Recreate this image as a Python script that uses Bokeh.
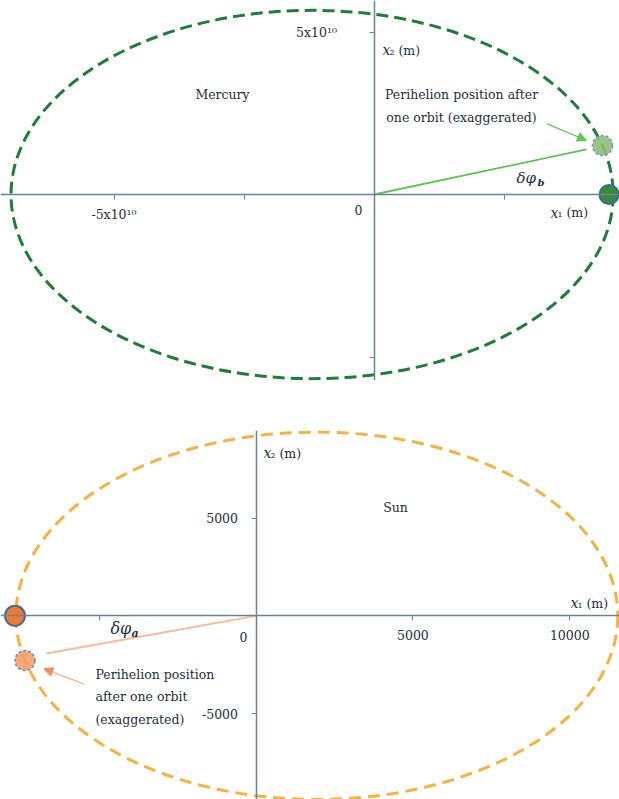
from bokeh.plotting import figure
from bokeh.models import FixedTicker, Arrow, NormalHead, LinearAxis, Range1d
from bokeh.layouts import column
from bokeh.embed import file_html
from bokeh.resources import INLINE
from bokeh.core.properties import value

# ---------------- data (metres) ----------------
# Mercury orbit around the barycentre
merc_perihelion = 4.60e10
merc_aphelion = 6.98e10
merc_pos = [4.52e10, 0.0]             # Mercury at perihelion
merc_shifted = [4.394e10, 1.508e10]   # perihelion after one orbit (exaggerated)
merc_ray_end = [4.087e10, 1.385e10]
merc_arrow_tail = [3.331e10, 2.175e10]
merc_arrow_head = [4.087e10, 1.662e10]
merc_xticks = [-5e10, -2.5e10, 2.5e10]
merc_xtick_labels = ["-5x10\u00b9\u2070", "", ""]
merc_yticks = [5e10, -5e10]
merc_ytick_labels = ["5x10\u00b9\u2070", ""]

# Sun orbit around the barycentre
sun_perihelion = 7650.0
sun_aphelion = 11530.0
sun_pos = [-7680.0, 0.0]
sun_shifted = [-7361.0, -2285.0]
sun_ray_end = [-6676.0, -1927.0]
sun_arrow_tail = [-5488.0, -3476.0]
sun_arrow_head = [-6762.0, -2710.0]
sun_xticks = [-5000, 5000, 10000]
sun_xtick_labels = ["", "5000", "10000"]
sun_yticks = [5000, -5000]
sun_ytick_labels = ["5000", "-5000"]

# ---------------- styles ----------------
FONT = "DejaVu Serif"
TXT = "#1d2f3a"
AX = "#6a8599"
GREEN = "#1f7d3a"
ORANGE = "#f4b23e"
FS = "12.5px"


def base(height, x_range, y_range, top, bottom):
    p = figure(width=619, height=height, x_range=Range1d(*x_range), y_range=Range1d(*y_range),
               output_backend="svg", toolbar_location=None,
               x_axis_location=None, y_axis_location=None,
               min_border_left=0, min_border_right=0,
               min_border_top=top, min_border_bottom=bottom)
    p.grid.visible = False
    p.outline_line_color = None
    p.background_fill_color = "white"
    p.border_fill_color = "white"
    return p


def add_axes(p, xt, xl, yt, yl, xstand, ystand):
    xa = LinearAxis(fixed_location=0, ticker=FixedTicker(ticks=xt),
                    major_label_overrides={t: l for t, l in zip(xt, xl)})
    ya = LinearAxis(fixed_location=0, ticker=FixedTicker(ticks=yt),
                    major_label_overrides={t: l for t, l in zip(yt, yl)})
    for a, s in ((xa, xstand), (ya, ystand)):
        a.axis_line_color = AX
        a.axis_line_width = 1.5
        a.major_tick_line_color = AX
        a.major_tick_out = 5
        a.major_tick_in = 0
        a.minor_tick_line_color = None
        a.major_label_text_font = FONT
        a.major_label_text_font_size = FS
        a.major_label_text_color = TXT
        a.major_label_standoff = s
    ya.major_label_orientation = "horizontal"
    p.add_layout(xa, "below")
    p.add_layout(ya, "left")


def label(p, x, y, t, size=FS, style="normal", align="left", baseline="middle", lh=1.2):
    p.text(x=[x], y=[y], text=[t], text_font=value(FONT), text_font_size=size,
           text_font_style=style, text_color=TXT, text_align=align,
           text_baseline=baseline, text_line_height=lh)


# ================= Mercury =================
sx, sy = 52 / 1e10, 32.5 / 1e10
p1 = base(400, ((0 - 373.5) / sx, (619 - 373.5) / sx), ((194 - 380) / sy, (194 - 0) / sy), 0, 20)
add_axes(p1, merc_xticks, merc_xtick_labels, merc_yticks, merc_ytick_labels, 7, 32)

a_m = (merc_perihelion + merc_aphelion) / 2
b_m = (merc_perihelion * merc_aphelion) ** 0.5
p1.ellipse(x=[merc_perihelion - a_m], y=[0], width=[2 * a_m], height=[2 * b_m],
           fill_color=None, line_color=GREEN, line_width=3, line_dash="12 6")
p1.segment(x0=[0], y0=[0], x1=[merc_ray_end[0]], y1=[merc_ray_end[1]],
           line_color="#62c153", line_width=1.8)
p1.add_layout(Arrow(end=NormalHead(size=9, line_color="#62c153", fill_color="#62c153"),
                    x_start=merc_arrow_tail[0], y_start=merc_arrow_tail[1],
                    x_end=merc_arrow_head[0], y_end=merc_arrow_head[1],
                    line_color="#62c153", line_width=1.3))
p1.scatter(x=[merc_shifted[0]], y=[merc_shifted[1]], size=20, fill_color="#8fbc78",
           fill_alpha=0.9, line_color="#6d9fb8", line_width=1.5, line_dash="3 2")
p1.scatter(x=[merc_pos[0]], y=[merc_pos[1]], size=19, fill_color="#3a8a3a",
           line_color="#2f7090", line_width=2)

label(p1, -2.913e10, 3.077e10, "Mercury", align="center")
label(p1, 1.683e10, 2.723e10, "Perihelion position after\none orbit (exaggerated)",
      align="center", lh=1.5)
label(p1, 2.740e10, 0.523e10, "\u03b4\u03c6", size="15px", style="italic")
label(p1, 3.144e10, 0.369e10, "b", size="10px", style="bold italic")
label(p1, 3.394e10, -0.554e10, "x", size="14px", style="italic")
label(p1, 3.529e10, -0.554e10, "\u2081 (m)")
label(p1, 0.163e10, 4.431e10, "x", size="14px", style="italic")
label(p1, 0.298e10, 4.431e10, "\u2082 (m)")
label(p1, -0.298e10, -0.492e10, "0", align="center")

# ================= Sun =================
tx, ty = 0.03138, 0.01956
p2 = base(399, ((0 - 255.5) / tx, (619 - 255.5) / tx), ((615.3 - 799) / ty, (615.3 - 430) / ty), 30, 0)
add_axes(p2, sun_xticks, sun_xtick_labels, sun_yticks, sun_ytick_labels, 9, 13)

a_s = (sun_perihelion + sun_aphelion) / 2
b_s = (sun_perihelion * sun_aphelion) ** 0.5
p2.ellipse(x=[a_s - sun_perihelion], y=[0], width=[2 * a_s], height=[2 * b_s],
           fill_color=None, line_color=ORANGE, line_width=3, line_dash="12 7")
p2.segment(x0=[0], y0=[0], x1=[sun_ray_end[0]], y1=[sun_ray_end[1]],
           line_color="#f9b996", line_width=1.8)
p2.add_layout(Arrow(end=NormalHead(size=9, line_color="#f58a5a", fill_color="#f58a5a"),
                    x_start=sun_arrow_tail[0], y_start=sun_arrow_tail[1],
                    x_end=sun_arrow_head[0], y_end=sun_arrow_head[1],
                    line_color="#f8b08e", line_width=1.3))
p2.scatter(x=[sun_shifted[0]], y=[sun_shifted[1]], size=20, fill_color="#f3a068",
           fill_alpha=0.9, line_color="#5b92c2", line_width=1.5, line_dash="3 2")
p2.scatter(x=[sun_pos[0]], y=[sun_pos[1]], size=20, fill_color="#f07b2e",
           line_color="#3d6f94", line_width=2)

label(p2, 4445, 5537, "Sun", align="center")
label(p2, -5115, -4151, "Perihelion position\nafter one orbit\n(exaggerated)", lh=1.5)
label(p2, -4637, -649, "\u03b4\u03c6", size="16px", style="italic")
label(p2, -3968, -905, "a", size="11px", style="bold italic")
label(p2, 10022, 629, "x", size="14px", style="italic")
label(p2, 10245, 629, "\u2081 (m)")
label(p2, 239, 8298, "x", size="14px", style="italic")
label(p2, 462, 8298, "\u2082 (m)")
label(p2, -398, -1109, "0", align="center")

layout = column(p1, p2, spacing=0)
open("out.html", "w").write(file_html(layout, INLINE))
